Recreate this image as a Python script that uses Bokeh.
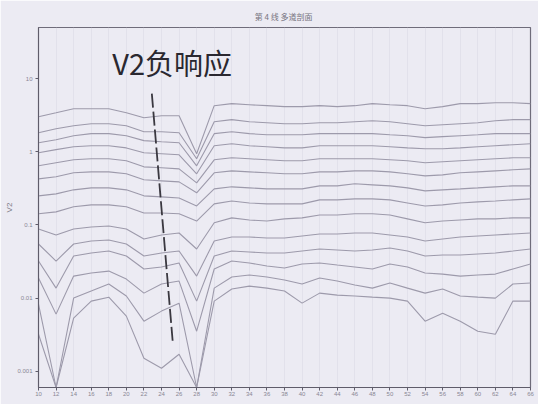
from bokeh.plotting import figure
from bokeh.models import FixedTicker, CustomJSTickFormatter, Label, Range1d
from bokeh.embed import file_html
from bokeh.resources import INLINE

# ---- data ----
stations = [10, 12, 14, 16, 18, 20, 22, 24, 26, 28, 30, 32, 34, 36, 38, 40,
            42, 44, 46, 48, 50, 52, 54, 56, 58, 60, 62, 64, 66]

ch01 = [3.02, 3.42, 3.88, 3.88, 3.88, 3.42, 2.92, 3.11, 3.11, 0.939, 4.27, 4.55, 4.40, 4.27, 4.14,
        4.14, 4.27, 4.14, 4.27, 4.55, 4.40, 4.27, 3.88, 4.14, 4.55, 4.55, 4.69, 4.69, 4.55]
ch02 = [1.82, 2.07, 2.27, 2.42, 2.42, 2.27, 1.88, 1.88, 1.82, 0.802, 2.58, 2.75, 2.58, 2.50, 2.42,
        2.42, 2.50, 2.50, 2.58, 2.66, 2.58, 2.42, 2.27, 2.34, 2.42, 2.50, 2.66, 2.75, 2.75]
ch03 = [1.33, 1.46, 1.66, 1.77, 1.77, 1.66, 1.42, 1.37, 1.33, 0.643, 1.77, 1.88, 1.77, 1.71, 1.71,
        1.71, 1.77, 1.77, 1.77, 1.77, 1.71, 1.66, 1.56, 1.61, 1.66, 1.71, 1.77, 1.77, 1.77]
ch04 = [0.969, 1.07, 1.17, 1.21, 1.21, 1.13, 0.969, 0.939, 0.910, 0.500, 1.21, 1.29, 1.21, 1.17, 1.13,
        1.13, 1.21, 1.21, 1.21, 1.21, 1.17, 1.13, 1.10, 1.10, 1.13, 1.17, 1.21, 1.25, 1.29]
ch05 = [0.643, 0.707, 0.777, 0.802, 0.802, 0.753, 0.623, 0.604, 0.585, 0.376, 0.777, 0.828, 0.802, 0.777, 0.753,
        0.753, 0.802, 0.802, 0.802, 0.802, 0.777, 0.753, 0.707, 0.730, 0.753, 0.777, 0.802, 0.828, 0.828]
ch06 = [0.427, 0.455, 0.516, 0.532, 0.532, 0.500, 0.414, 0.401, 0.388, 0.275, 0.516, 0.549, 0.532, 0.516, 0.500,
        0.500, 0.532, 0.532, 0.549, 0.549, 0.532, 0.500, 0.469, 0.484, 0.516, 0.532, 0.549, 0.567, 0.585]
ch07 = [0.250, 0.266, 0.302, 0.321, 0.321, 0.302, 0.250, 0.242, 0.234, 0.182, 0.311, 0.332, 0.321, 0.311, 0.311,
        0.311, 0.342, 0.342, 0.365, 0.353, 0.342, 0.321, 0.292, 0.302, 0.311, 0.321, 0.332, 0.342, 0.342]
ch08 = [0.142, 0.151, 0.177, 0.188, 0.188, 0.177, 0.146, 0.146, 0.142, 0.113, 0.194, 0.213, 0.200, 0.194, 0.194,
        0.194, 0.220, 0.220, 0.227, 0.227, 0.220, 0.200, 0.182, 0.188, 0.200, 0.207, 0.213, 0.220, 0.227]
ch09 = [0.0882, 0.0730, 0.0882, 0.0939, 0.0969, 0.0882, 0.0643, 0.0730, 0.0777, 0.0469, 0.107, 0.125, 0.117, 0.113, 0.121,
        0.125, 0.137, 0.137, 0.142, 0.142, 0.137, 0.121, 0.107, 0.113, 0.117, 0.121, 0.121, 0.125, 0.125]
ch10 = [0.0549, 0.0321, 0.0549, 0.0604, 0.0623, 0.0549, 0.0376, 0.0414, 0.0440, 0.0200, 0.0604, 0.0685, 0.0685, 0.0664, 0.0664,
        0.0707, 0.0753, 0.0753, 0.0777, 0.0777, 0.0730, 0.0685, 0.0604, 0.0643, 0.0685, 0.0707, 0.0730, 0.0753, 0.0777]
ch11 = [0.0321, 0.0137, 0.0376, 0.0414, 0.0440, 0.0376, 0.0250, 0.0266, 0.0302, 0.00910, 0.0376, 0.0440, 0.0427, 0.0414, 0.0414,
        0.0440, 0.0469, 0.0455, 0.0440, 0.0455, 0.0484, 0.0440, 0.0376, 0.0388, 0.0388, 0.0401, 0.0414, 0.0440, 0.0469]
ch12 = [0.0188, 0.00604, 0.0200, 0.0220, 0.0234, 0.0182, 0.0117, 0.0156, 0.0171, 0.00353, 0.0250, 0.0321, 0.0302, 0.0275, 0.0258,
        0.0292, 0.0302, 0.0283, 0.0266, 0.0250, 0.0292, 0.0266, 0.0220, 0.0213, 0.0200, 0.0207, 0.0213, 0.0250, 0.0292]
ch13 = [0.00828, 0.0006, 0.0100, 0.0125, 0.0156, 0.0107, 0.00484, 0.00664, 0.00854, 0.0006, 0.0137, 0.0194, 0.0207, 0.0194, 0.0177,
        0.0156, 0.0188, 0.0171, 0.0151, 0.0137, 0.0161, 0.0137, 0.0117, 0.0133, 0.0107, 0.0103, 0.0100, 0.0156, 0.0161]
ch14 = [0.00321, 0.0006, 0.00532, 0.00910, 0.0103, 0.00567, 0.00151, 0.00110, 0.00171, 0.0006, 0.00910, 0.0133, 0.0146, 0.0137, 0.0125,
        0.00854, 0.0117, 0.0110, 0.0107, 0.0103, 0.0100, 0.00910, 0.00484, 0.00623, 0.00484, 0.00353, 0.00321, 0.00910, 0.00910]

channels = [ch01, ch02, ch03, ch04, ch05, ch06, ch07, ch08, ch09, ch10, ch11, ch12, ch13, ch14]

x_ticks = stations
y_ticks = [0.001, 0.01, 0.1, 1, 10]
title_text = "第 4 线  多道剖面"
y_label = "V2"
note_text = "V2负响应"
note_line_x = [22.9, 25.3]
note_line_y = [6.23, 0.00234]
note_text_x = 18.4
note_text_y = 8.8

# ---- figure ----
BG = "#ecebf3"
LINE = "#9d9aab"

p = figure(width=538, height=404, output_backend="svg", toolbar_location=None,
           y_axis_type="log",
           x_range=Range1d(10, 66), y_range=Range1d(0.0006, 50),
           min_border_left=38, min_border_right=8, min_border_top=27, min_border_bottom=17)

p.background_fill_color = BG
p.border_fill_color = BG
p.outline_line_color = "#6f6c7a"
p.outline_line_width = 1.2

p.title.text = title_text
p.title.align = "center"
p.title.offset = -12
p.title.text_font = "Noto Sans CJK SC"
p.title.text_font_size = "8px"
p.title.text_font_style = "normal"
p.title.text_color = "#77747f"
p.title.standoff = 11

for vals in channels:
    p.line(stations, vals, line_color=LINE, line_width=1.1)

p.line(note_line_x, note_line_y, line_color="#3a3840", line_width=1.8, line_dash="14 4")

lbl = Label(x=note_text_x, y=note_text_y, text=note_text, text_font="Noto Sans CJK SC",
            text_font_size="29px", text_color="#2a2830", text_baseline="bottom")
p.add_layout(lbl)

p.xaxis.ticker = FixedTicker(ticks=x_ticks)
p.yaxis.ticker = FixedTicker(ticks=y_ticks)
p.yaxis.formatter = CustomJSTickFormatter(code="return tick.toString();")
p.yaxis.axis_label = y_label
p.yaxis.axis_label_text_font_size = "8px"
p.yaxis.axis_label_text_font_style = "normal"
p.yaxis.axis_label_text_color = "#77747f"
p.yaxis.axis_label_standoff = 0

for ax in (p.xaxis[0], p.yaxis[0]):
    ax.major_label_text_font_size = "6px"
    ax.major_label_text_color = "#8a8794"
    ax.axis_line_color = "#5f5c6a"
    ax.major_tick_line_color = "#5f5c6a"
    ax.major_tick_out = 3
    ax.major_tick_in = 0
    ax.minor_tick_line_color = None
    ax.major_label_standoff = 1

p.yaxis.major_label_standoff = 3

p.xgrid.grid_line_color = "#dcdae6"
p.xgrid.grid_line_alpha = 0.6
p.ygrid.grid_line_color = None

open("out.html", "w").write(file_html(p, INLINE))
